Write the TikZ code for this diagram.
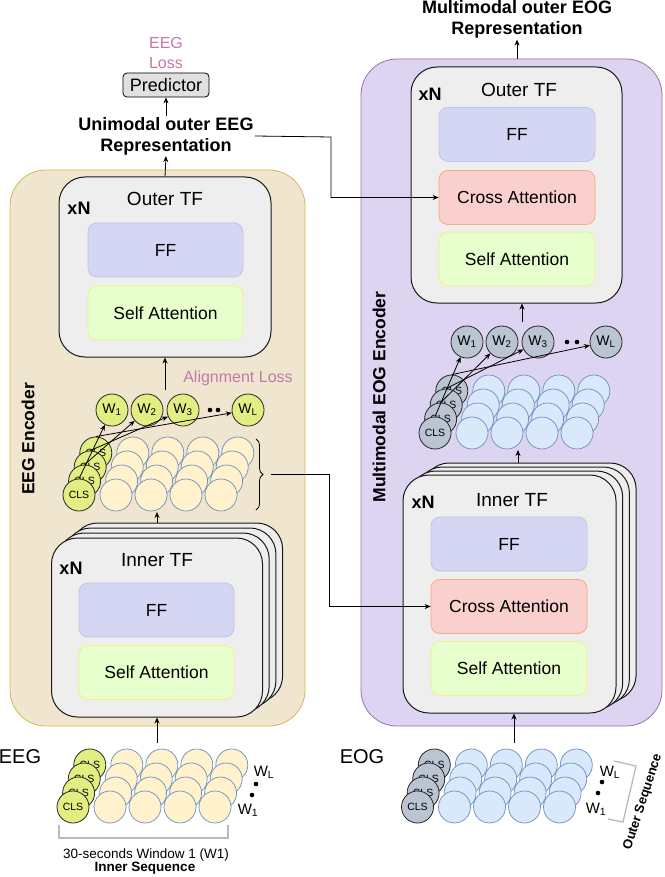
\documentclass[tikz,border=0pt]{standalone}
\usepackage{fontspec}
\setmainfont{Liberation Sans}
\usetikzlibrary{arrows.meta,decorations.pathreplacing}

\definecolor{encTan}{RGB}{240,230,208}
\definecolor{encTanLine}{RGB}{214,182,86}
\definecolor{encPurple}{RGB}{221,212,241}
\definecolor{encPurpleLine}{RGB}{150,115,166}
\definecolor{tfGray}{RGB}{238,238,238}
\definecolor{ffFill}{RGB}{213,214,243}
\definecolor{ffLine}{RGB}{190,196,234}
\definecolor{saFill}{RGB}{230,255,204}
\definecolor{saLine}{RGB}{240,240,140}
\definecolor{caFill}{RGB}{249,208,206}
\definecolor{caLine}{RGB}{250,170,120}
\definecolor{lossPink}{RGB}{196,120,170}
\definecolor{limeFill}{RGB}{226,238,130}
\definecolor{tokYellow}{RGB}{255,242,204}
\definecolor{tokBlue}{RGB}{218,232,252}
\definecolor{tokLine}{RGB}{108,142,191}
\definecolor{clsGray}{RGB}{186,196,210}

\newcommand{\fsz}[2]{\fontsize{#1}{#2}\selectfont}
% one window grid: name, x of first token, y of front row, token style, cls style
\newcommand{\tokgrid}[5]{%
  \foreach \r in {3,2,1,0} {
    \node[#5] (#1cls\r) at (#2-37+5.6*\r, #3-14*\r) {CLS};
    \foreach \i in {0,1,2,3}
      \node[#4] (#1t\r\i) at (#2+35*\i+5.6*\r, #3-14*\r) {};
  }%
}

\begin{document}
\begin{tikzpicture}[x=1pt, y=-1pt,
    encbox/.style={line width=0.8pt, rounded corners=36pt},
    tfbox/.style={draw=black!90, fill=tfGray, line width=1pt, rounded corners=26pt},
    layerbox/.style={draw, line width=0.8pt, rounded corners=9pt, minimum width=155pt, minimum height=54pt, font=\fsz{17.5}{21}},
    ffbox/.style={layerbox, fill=ffFill, draw=ffLine},
    sabox/.style={layerbox, fill=saFill, draw=saLine},
    cabox/.style={layerbox, fill=caFill, draw=caLine},
    tftitle/.style={font=\fsz{19}{23}},
    xn/.style={font=\bfseries\fsz{18}{22}},
    reptext/.style={font=\bfseries\fsz{18}{21}, align=center, inner sep=1pt},
    enctitle/.style={font=\bfseries\fsz{17.5}{21}, rotate=90},
    losstext/.style={text=lossPink, font=\fsz{16}{20}, align=center},
    tok/.style={circle, draw=tokLine, line width=0.7pt, minimum size=32pt, inner sep=0pt},
    eegtok/.style={tok, fill=tokYellow},
    eogtok/.style={tok, fill=tokBlue},
    cls/.style={circle, draw=black!85, line width=0.8pt, minimum size=32pt, inner sep=0pt, font=\fsz{10.5}{12}},
    eegcls/.style={cls, fill=limeFill},
    eogcls/.style={cls, fill=clsGray},
    wtok/.style={cls, font=\fsz{14}{16}},
    flow/.style={-{Stealth[length=6pt,width=5pt]}, line width=0.8pt},
    seqbrk/.style={draw=black!27, line width=1.3pt},
    sidelbl/.style={font=\fsz{15}{17}, inner sep=0pt}
  ]
  \useasboundingbox (0,0) rectangle (664,877);

  % Encoders
  \node[encbox, draw=encTanLine, fill=encTan, minimum width=295pt, minimum height=556pt] (eegenc) at (157.5,448) {};
  \node[encbox, draw=encPurpleLine, fill=encPurple, minimum width=301pt, minimum height=667pt] (eogenc) at (511.5,392.5) {};
  \node[enctitle] (eegenct) at (28,439) {EEG Encoder};
  \node[enctitle] (eogenct) at (379,397) {Multimodal EOG Encoder};

  % EEG outer transformer
  \node[tfbox, minimum width=212pt, minimum height=180pt] (outL) at (165,267) {};
  \node[tftitle] (outLt) at (165,199) {Outer TF};
  \node[xn] (outLx) at (79,208) {xN};
  \node[ffbox] (ffL) at (165.5,250) {FF};
  \node[sabox] (saL) at (165.5,313) {Self Attention};

  % EEG inner transformer
  \foreach \k in {3,2,1}
    \node[tfbox, minimum width=211pt, minimum height=179pt] (inL\k) at (157+6.7*\k,627.5-5*\k) {};
  \node[tfbox, minimum width=211pt, minimum height=179pt] (inL) at (157,627.5) {};
  \node[tftitle] (inLt) at (157,560) {Inner TF};
  \node[xn] (inLx) at (71,568) {xN};
  \node[ffbox] (ffIL) at (156.5,610) {FF};
  \node[sabox] (saIL) at (156.5,672.5) {Self Attention};

  % EOG outer transformer
  \node[tfbox, minimum width=211pt, minimum height=236pt] (outR) at (516.5,185) {};
  \node[tftitle] (outRt) at (519,90) {Outer TF};
  \node[xn] (outRx) at (430,94) {xN};
  \node[ffbox, minimum width=156pt] (ffR) at (517,134.5) {FF};
  \node[cabox, minimum width=156pt] (caR) at (517,197.5) {Cross Attention};
  \node[sabox, minimum width=156pt] (saR) at (517,259) {Self Attention};

  % EOG inner transformer
  \foreach \k in {3,2,1}
    \node[tfbox, minimum width=213pt, minimum height=238pt] (inR\k) at (509.5+6.7*\k,594-4*\k) {};
  \node[tfbox, minimum width=213pt, minimum height=238pt] (inR) at (509.5,594) {};
  \node[tftitle] (inRt) at (512,500) {Inner TF};
  \node[xn] (inRx) at (423,502) {xN};
  \node[ffbox, minimum width=156pt] (ffIR) at (509,544) {FF};
  \node[cabox, minimum width=156pt] (caIR) at (509,606.5) {Cross Attention};
  \node[sabox, minimum width=156pt] (saIR) at (509,668.5) {Self Attention};

  % Token grids
  \tokgrid{eegm}{116}{495}{eegtok}{eegcls}
  \tokgrid{eegi}{110}{807}{eegtok}{eegcls}
  \tokgrid{eogm}{472}{433}{eogtok}{eogcls}
  \tokgrid{eogi}{454.5}{807}{eogtok}{eogcls}

  % Window tokens
  \node[wtok, fill=limeFill] (wl1) at (112,410) {W\textsubscript{1}};
  \node[wtok, fill=limeFill] (wl2) at (147,410) {W\textsubscript{2}};
  \node[wtok, fill=limeFill] (wl3) at (183,410) {W\textsubscript{3}};
  \node[wtok, fill=limeFill] (wl4) at (248,410) {W\textsubscript{L}};
  \fill (210,410) circle (2.3pt) (218,410) circle (2.3pt);
  \node[wtok, fill=clsGray] (wr1) at (467,342) {W\textsubscript{1}};
  \node[wtok, fill=clsGray] (wr2) at (502,342) {W\textsubscript{2}};
  \node[wtok, fill=clsGray] (wr3) at (538,342) {W\textsubscript{3}};
  \node[wtok, fill=clsGray] (wr4) at (606,342) {W\textsubscript{L}};
  \fill (567,342) circle (2.3pt) (577,342) circle (2.3pt);
  \foreach \r in {0,...,3} {
    \pgfmathtruncatemacro{\w}{\r+1}
    \draw[flow] (eegmcls\r.north) -- (wl\w);
    \draw[flow] (eogmcls\r.north) -- (wr\w);
  }

  % Top labels
  \node[reptext] (unirep) at (166,136) {Unimodal outer EEG\\Representation};
  \node[draw, fill=black!12, rounded corners=4pt, line width=0.8pt, minimum width=86pt, minimum height=24pt, font=\fsz{18}{21}, inner sep=1pt] (pred) at (166,85) {Predictor};
  \node[losstext] (eegloss) at (166,53) {EEG\\Loss};
  \node[reptext] (mmrep) at (517,19.5) {Multimodal outer EOG\\Representation};
  \node[losstext] (alignloss) at (238,378) {Alignment Loss};

  % Inputs
  \node[font=\fsz{20}{24}, inner sep=0pt] (eeglbl) at (20,757) {EEG};
  \node[font=\fsz{20}{24}, inner sep=0pt] (eoglbl) at (362,757) {EOG};
  \node[sidelbl] (eegwl) at (264,772) {W\textsubscript{L}};
  \node[sidelbl] (eegw1) at (248,810) {W\textsubscript{1}};
  \fill (256,784) circle (2.3pt) (252,795) circle (2.3pt);
  \node[sidelbl] (eogwl) at (610,772) {W\textsubscript{L}};
  \node[sidelbl] (eogw1) at (596,809) {W\textsubscript{1}};
  \fill (602,782) circle (2.3pt) (598,793) circle (2.3pt);
  \draw[seqbrk] (59,825) -- (59,838) -- (228,838) -- (228,825);
  \node[font=\fsz{13.5}{15}, inner sep=0pt] (winlbl) at (146,855) {30-seconds Window 1 (W1)};
  \node[font=\bfseries\fsz{13.5}{15}, inner sep=0pt] (innerseq) at (145,868) {Inner Sequence};
  \draw[seqbrk] (614,761) -- (636,766) -- (623,822) -- (608,819);
  \node[font=\bfseries\fsz{13}{15}, rotate=72, inner sep=0pt] (outerseq) at (643,802) {Outer Sequence};

  % Draw connections
  \coordinate (inLin) at (157,743);
  \coordinate (inRin) at (514,743);
  \coordinate (gridLb) at (157,512);
  \coordinate (gridRb) at (518,450);
  \coordinate (wlTop) at (165,390);
  \coordinate (wrTop) at (522,322);
  \draw[flow] (inLin) -- (inLin |- inL.south);
  \draw[flow] (inRin) -- (inRin |- inR.south);
  \draw[flow] (gridLb |- inL3.north) -- (gridLb);
  \draw[flow] (gridRb |- inR3.north) -- (gridRb);
  \draw[flow] (wlTop) -- (wlTop |- outL.south);
  \draw[flow] (wrTop) -- (wrTop |- outR.south);
  \draw[flow] (outL.north) -- (unirep.south);
  \draw[flow] (unirep.north) -- (pred.south);
  \draw[flow] (mmrep.south |- eogenc.north) -- (mmrep.south);

  % Cross connections
  \coordinate (crossA) at (331,137);
  \draw[flow] (unirep.east) -- (crossA) |- (caR.west);
  \draw[line width=0.8pt, decorate, decoration={brace, amplitude=7pt}] (256,439) -- (256,510);
  \coordinate (brtip) at (271,474.5);
  \coordinate (crossB) at (329,474.5);
  \draw[flow] (brtip) -- (crossB) |- (caIR.west);
\end{tikzpicture}
\end{document}
